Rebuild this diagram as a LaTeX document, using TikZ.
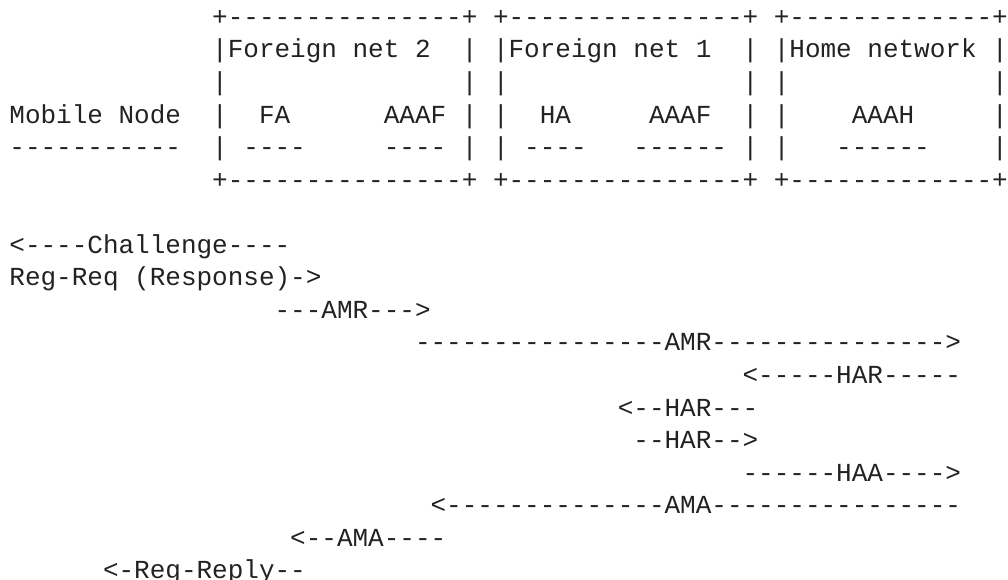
\documentclass[tikz,border=0pt]{standalone}
\usepackage{fontspec}
\setmonofont{Liberation Mono}
\definecolor{ink}{RGB}{34,34,34}
\newcommand\asc[4]{\node[txt] (#1) at ({9.4+#3*15.6},{-(25.4+#2*32.55)}) {#4};}
\begin{document}
\begin{tikzpicture}[x=1pt,y=1pt,
  txt/.style={inner sep=0pt,outer sep=0pt,anchor=base west,text=ink,
    font=\ttfamily\fontsize{26}{30}\selectfont}]
\path[use as bounding box,fill=white] (0,0) rectangle (1008,-580);
% box tops
\asc{t1}{0}{13}{+---------------+}
\asc{t2}{0}{31}{+---------------+}
\asc{t3}{0}{49}{+-------------+}
% row 1
\asc{fn2}{1}{13}{|Foreign net 2}
\asc{r1a}{1}{29}{|}
\asc{fn1}{1}{31}{|Foreign net 1}
\asc{r1b}{1}{47}{|}
\asc{hn}{1}{49}{|Home network}
\asc{r1c}{1}{63}{|}
% row 2
\asc{r2a}{2}{13}{|}
\asc{r2b}{2}{29}{|}
\asc{r2c}{2}{31}{|}
\asc{r2d}{2}{47}{|}
\asc{r2e}{2}{49}{|}
\asc{r2f}{2}{63}{|}
% row 3
\asc{mn}{3}{0}{Mobile Node}
\asc{r3a}{3}{13}{|}
\asc{fa}{3}{16}{FA}
\asc{aaaf2}{3}{24}{AAAF}
\asc{r3b}{3}{29}{|}
\asc{r3c}{3}{31}{|}
\asc{ha}{3}{34}{HA}
\asc{aaaf1}{3}{41}{AAAF}
\asc{r3d}{3}{47}{|}
\asc{r3e}{3}{49}{|}
\asc{aaah}{3}{54}{AAAH}
\asc{r3f}{3}{63}{|}
% row 4
\asc{mnl}{4}{0}{-----------}
\asc{r4a}{4}{13}{|}
\asc{fal}{4}{15}{----}
\asc{aaaf2l}{4}{24}{----}
\asc{r4b}{4}{29}{|}
\asc{r4c}{4}{31}{|}
\asc{hal}{4}{33}{----}
\asc{aaaf1l}{4}{40}{------}
\asc{r4d}{4}{47}{|}
\asc{r4e}{4}{49}{|}
\asc{aaahl}{4}{53}{------}
\asc{r4f}{4}{63}{|}
% box bottoms
\asc{b1}{5}{13}{+---------------+}
\asc{b2}{5}{31}{+---------------+}
\asc{b3}{5}{49}{+-------------+}
% messages
\asc{m1}{7}{0}{<----Challenge----}
\asc{m2}{8}{0}{Reg-Req (Response)->}
\asc{m3}{9}{17}{---AMR--->}
\asc{m4}{10}{26}{----------------AMR--------------->}
\asc{m5}{11}{47}{<-----HAR-----}
\asc{m6}{12}{39}{<--HAR---}
\asc{m7}{13}{40}{--HAR-->}
\asc{m8}{14}{47}{------HAA---->}
\asc{m9}{15}{27}{<--------------AMA----------------}
\asc{m10}{16}{18}{<--AMA----}
\asc{m11}{17}{6}{<-Reg-Reply--}
\end{tikzpicture}
\end{document}
